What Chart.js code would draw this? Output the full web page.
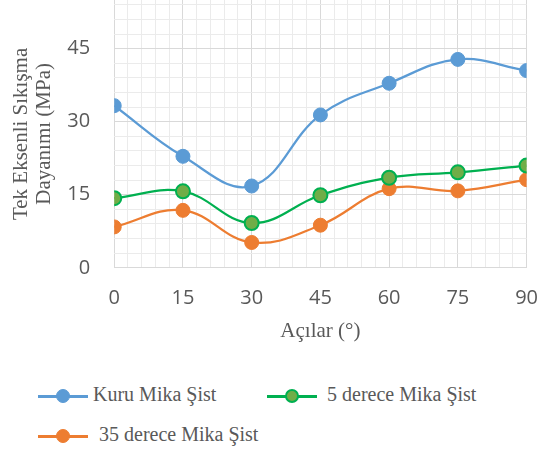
<!DOCTYPE html>
<html>
<head>
<meta charset="utf-8">
<script src="https://cdn.jsdelivr.net/npm/chart.js@4.4.0/dist/chart.umd.min.js"></script>
<style>
  body { margin: 0; background: #fff; overflow: hidden; }
  #wrap { position: relative; width: 548px; height: 450px; overflow: hidden; }
  #box { position: absolute; left: -24px; top: -36px; width: 580px; height: 384px; }
  .leg { position: absolute; font-family: "Liberation Serif", serif; font-size: 20px; color: #595959; white-space: nowrap; }
  .leg .ln { position: absolute; width: 50px; height: 3px; }
  .leg .dot { position: absolute; width: 14px; height: 14px; border-radius: 50%; box-sizing: border-box; }
</style>
</head>
<body>
<div id="wrap">
  <div id="box"><canvas id="uts-chart"></canvas></div>
  <div id="legend"></div>
</div>
<script>
// bedding angles (degrees)
let angles = [0, 15, 30, 45, 60, 75, 90];

// uniaxial compressive strength, MPa
let kuru = [33.3, 22.9, 16.8, 31.4, 37.9, 42.8, 40.5];
let derece5 = [14.3, 15.7, 9.2, 14.9, 18.5, 19.6, 21.0];
let derece35 = [8.4, 11.8, 5.2, 8.75, 16.25, 15.8, 18.1];

let seriesNames = ['Kuru Mika Şist', '5 derece Mika Şist', '35 derece Mika Şist'];
let yLabels = [0, 15, 30, 45];
let xLabels = [0, 15, 30, 45, 60, 75, 90];

function pts(vals) {
  return angles.map((a, i) => ({ x: a, y: vals[i] }));
}

// gridlines every 3 units, labels only on the multiples of 15
function minorTicks(max) {
  let t = [];
  for (let v = 0; v <= max; v += 3) t.push({ value: v });
  return t;
}

let gridColor = c => (c.tick && c.tick.value % 15 === 0) ? '#D9D9D9' : '#EBEBEB';

let ctx = document.getElementById('uts-chart').getContext('2d');

let utsChart = new Chart(ctx, {
  type: 'line',
  data: {
    datasets: [
      {
        label: seriesNames[0], data: pts(kuru),
        borderColor: '#5B9BD5', backgroundColor: '#5B9BD5',
        pointBorderColor: '#5B9BD5', pointBorderWidth: 1
      },
      {
        label: seriesNames[1], data: pts(derece5),
        borderColor: '#00B050', backgroundColor: '#70AD47',
        pointBorderColor: '#00B050', pointBorderWidth: 2
      },
      {
        label: seriesNames[2], data: pts(derece35),
        borderColor: '#ED7D31', backgroundColor: '#ED7D31',
        pointBorderColor: '#ED7D31', pointBorderWidth: 1
      }
    ]
  },
  options: {
    responsive: true,
    maintainAspectRatio: false,
    animation: false,
    layout: { padding: { left: 22, right: 14, top: -16, bottom: 0 } },
    elements: {
      line: { borderWidth: 2.25, tension: 0.4, fill: false },
      point: { radius: 7 }
    },
    plugins: { legend: { display: false }, tooltip: { enabled: false } },
    scales: {
      x: {
        type: 'linear', min: 0, max: 90,
        afterBuildTicks: s => { s.ticks = minorTicks(90); },
        grid: { color: gridColor, drawTicks: false },
        border: { display: false },
        ticks: {
          autoSkip: false, maxRotation: 0, padding: 18,
          color: '#595959', font: { family: 'Open Sans', size: 20 },
          callback: v => xLabels.includes(v) ? v : ''
        },
        title: {
          display: true, text: 'Açılar (°)', color: '#595959',
          font: { family: 'Liberation Serif', size: 21 }, padding: { top: -9 }
        }
      },
      y: {
        min: 0, max: 55,
        afterBuildTicks: s => { s.ticks = minorTicks(55); },
        grid: { color: gridColor, drawTicks: false },
        border: { display: false },
        ticks: {
          autoSkip: false, padding: 24,
          color: '#595959', font: { family: 'Open Sans', size: 20 },
          callback: v => yLabels.includes(v) ? v : ''
        },
        title: {
          display: true, text: ['Tek Eksenli Sıkışma', 'Dayanımı (MPa)'], color: '#595959',
          font: { family: 'Liberation Serif', size: 21, lineHeight: 1.08 },
          padding: { top: 12, bottom: -12 }
        }
      }
    }
  }
});

// legend: line with a marker in the middle, then the series name
let legendPos = [
  { left: 38, top: 396, text: 93 },
  { left: 267, top: 396, text: 327 },
  { left: 38, top: 436, text: 99 }
];
let legend = document.getElementById('legend');
utsChart.data.datasets.forEach((ds, i) => {
  let p = legendPos[i];
  let item = document.createElement('div');
  item.className = 'leg';
  item.style.left = p.left + 'px';
  item.style.top = p.top + 'px';
  item.innerHTML =
    '<span class="ln" style="left:0;top:-1px;background:' + ds.borderColor + '"></span>' +
    '<span class="dot" style="left:18px;top:-7px;background:' + ds.backgroundColor +
    ';border:' + ds.pointBorderWidth + 'px solid ' + ds.pointBorderColor + '"></span>' +
    '<span style="position:absolute;left:' + (p.text - p.left) + 'px;top:-13px">' + ds.label + '</span>';
  legend.appendChild(item);
});
</script>
</body>
</html>
